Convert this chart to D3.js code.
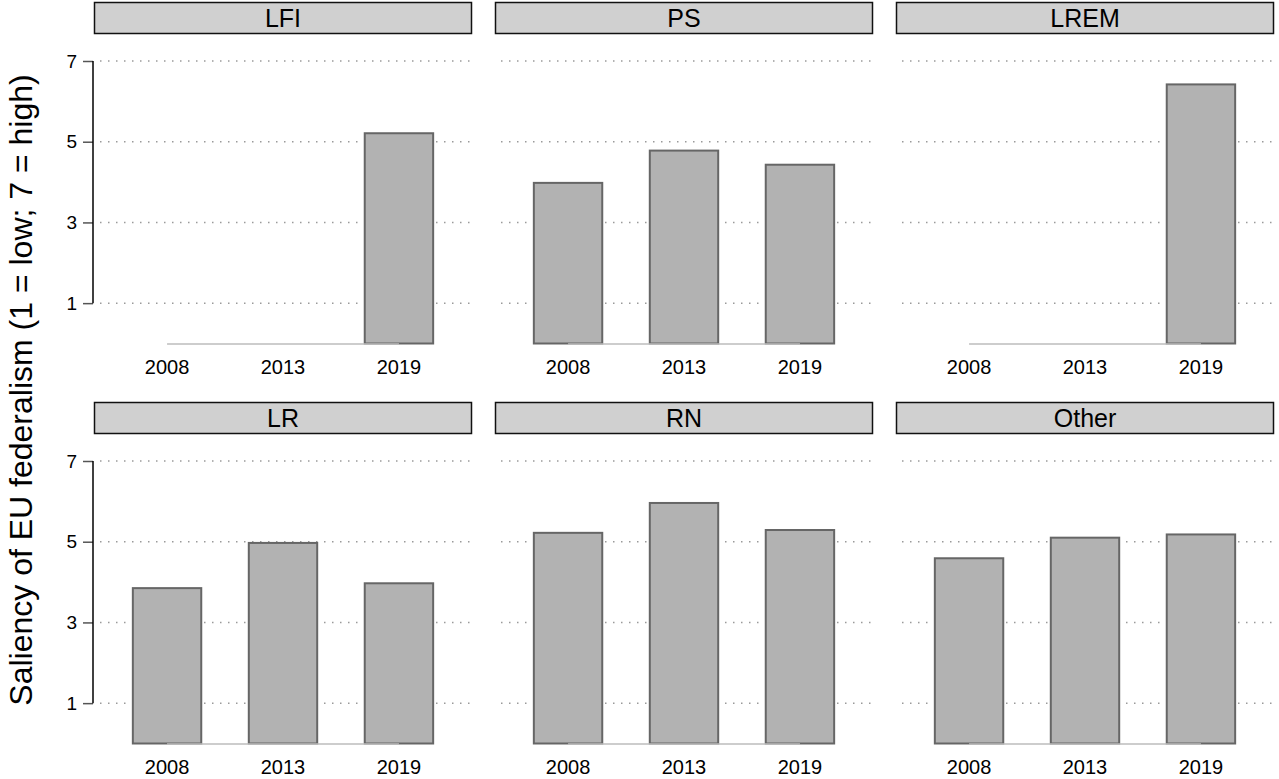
<!DOCTYPE html>
<html>
<head>
<meta charset="utf-8">
<script src="https://cdn.jsdelivr.net/npm/d3@7"></script>
<style>
  body { margin: 0; background: #fff; }
  svg { font-family: "Liberation Sans", Arial, sans-serif; }
</style>
</head>
<body>
<div id="chart"></div>
<script>
var years = ["2008", "2013", "2019"];
var parties = ["LFI", "PS", "LREM", "LR", "RN", "Other"];
var lfi = [null, null, 5.21];
var ps = [3.98, 4.78, 4.43];
var lrem = [null, null, 6.42];
var lr = [3.85, 4.97, 3.97];
var rn = [5.22, 5.96, 5.29];
var other = [4.59, 5.10, 5.18];
var yTicks = [1, 3, 5, 7];
var yTitle = "Saliency of EU federalism (1 = low; 7 = high)";

var values = [lfi, ps, lrem, lr, rn, other];

var width = 1279, height = 779;

var margin = {
    left: 94,
    top: 2
};
var panelW = 378, gapX = 23;
var rowH = 400;
var stripH = 32;
var plotTop = 59;      // from row top to y = 7
var plotBottom = 341.5; // from row top to y = 0

var svg = d3.select("#chart").append("svg")
    .attr("width", width)
    .attr("height", height);

var x = d3.scalePoint()
    .domain(years)
    .range([0, panelW])
    .padding(0.63);

var barW = x.step() * 0.59;

var y = d3.scaleLinear()
    .domain([0, 7])
    .range([plotBottom, plotTop]);

parties.forEach(function (p, i) {
    var col = i % 3, row = Math.floor(i / 3);
    var g = svg.append("g")
        .attr("transform", "translate(" + (margin.left + col * (panelW + gapX)) + "," + (margin.top + row * rowH) + ")");

    // strip
    g.append("rect")
        .attr("x", 0.5)
        .attr("y", 0.5)
        .attr("width", panelW - 1)
        .attr("height", stripH - 1)
        .attr("fill", "#d0d0d0")
        .attr("stroke", "#111")
        .attr("stroke-width", 1.5);

    g.append("text")
        .attr("x", panelW / 2)
        .attr("y", stripH / 2)
        .attr("dy", "0.36em")
        .attr("text-anchor", "middle")
        .attr("font-size", "25px")
        .attr("fill", "#000")
        .text(p);

    // grid
    g.selectAll(".grid")
        .data(yTicks)
        .enter().append("line")
        .attr("class", "grid")
        .attr("x1", 6)
        .attr("x2", panelW)
        .attr("y1", function (d) { return y(d); })
        .attr("y2", function (d) { return y(d); })
        .attr("stroke", "#9a9a9a")
        .attr("stroke-width", 1.5)
        .attr("stroke-dasharray", "1.5,6.5");

    // bars
    var rows = years.map(function (yr, j) {
        return { year: yr, value: values[i][j] };
    }).filter(function (d) { return d.value !== null; });

    g.selectAll(".bar")
        .data(rows)
        .enter().append("rect")
        .attr("class", "bar")
        .attr("x", function (d) { return x(d.year) - barW / 2; })
        .attr("width", barW)
        .attr("y", function (d) { return y(d.value); })
        .attr("height", function (d) { return y(0) - y(d.value); })
        .attr("fill", "#b2b2b2")
        .attr("stroke", "#666")
        .attr("stroke-width", 2);

    // baseline
    g.append("line")
        .attr("x1", x(years[0]))
        .attr("x2", x(years[years.length - 1]))
        .attr("y1", y(0) + 0.5)
        .attr("y2", y(0) + 0.5)
        .attr("stroke", "#bdbdbd")
        .attr("stroke-width", 1.5);

    // x labels
    g.selectAll(".xlab")
        .data(years)
        .enter().append("text")
        .attr("class", "xlab")
        .attr("x", function (d) { return x(d); })
        .attr("y", y(0) + 30)
        .attr("text-anchor", "middle")
        .attr("font-size", "20px")
        .attr("fill", "#000")
        .text(function (d) { return d; });

    // y axis on left column only
    if (col === 0) {
        var ax = g.append("g")
            .attr("transform", "translate(-1,0)")
            .call(d3.axisLeft(y).tickValues(yTicks).tickFormat(d3.format("d")).tickSize(10).tickPadding(6));
        ax.attr("font-size", null).attr("font-family", null);
        ax.select(".domain").remove();
        ax.selectAll(".tick line").attr("stroke", "#555").attr("stroke-width", 1.5);
        ax.selectAll(".tick text")
            .style("font-size", "19px")
            .attr("fill", "#000");
        ax.append("line")
            .attr("x1", 0)
            .attr("x2", 0)
            .attr("y1", y(1))
            .attr("y2", y(7))
            .attr("stroke", "#000")
            .attr("stroke-width", 1.5);
    }
});

svg.append("text")
    .attr("transform", "translate(20," + 390 + ") rotate(-90)")
    .attr("text-anchor", "middle")
    .attr("dy", "0.36em")
    .attr("font-size", "32px")
    .attr("fill", "#000")
    .text(yTitle);
</script>
</body>
</html>
